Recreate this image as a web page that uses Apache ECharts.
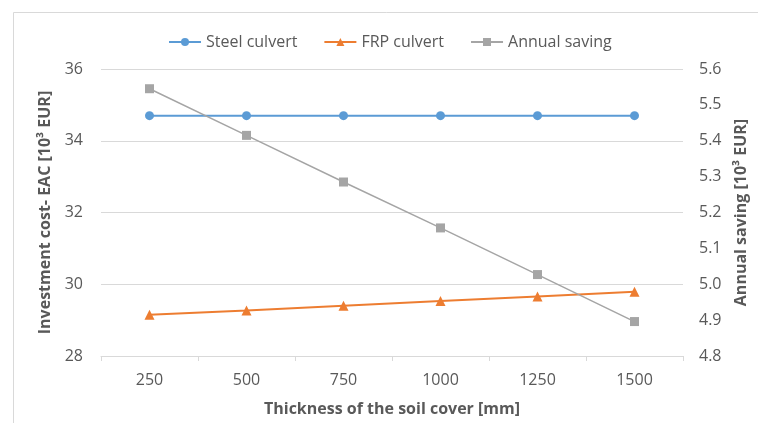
<!DOCTYPE html>
<html><head><meta charset="utf-8">
<script src="https://cdn.jsdelivr.net/npm/echarts@6/dist/echarts.min.js"></script>
<style>html,body{margin:0;padding:0;background:#fff;overflow:hidden}#c{width:758px;height:423px}</style>
</head><body><div id="c"></div>
<script>
var categories = ['250', '500', '750', '1000', '1250', '1500'];
var steelCulvert = [34.7, 34.7, 34.7, 34.7, 34.7, 34.7];
var frpCulvert = [29.15, 29.27, 29.40, 29.53, 29.66, 29.79];
var annualSaving = [5.545, 5.415, 5.285, 5.157, 5.027, 4.896];
var leftTicks = {min: 28, max: 36, interval: 2};
var rightTicks = {min: 4.8, max: 5.6, interval: 0.1};

var FONT = '"Open Sans", "Liberation Sans", sans-serif';
var TXT = '#595959';
var chart = echarts.init(document.getElementById('c'), null, {renderer: 'canvas', width: 758, height: 423});
chart.setOption({
  animation: false,
  backgroundColor: '#fff',
  textStyle: {fontFamily: FONT},
  graphic: [{type: 'rect', shape: {x: 13.5, y: 12.5, width: 800, height: 500}, style: {fill: 'none', stroke: '#d9d9d9', lineWidth: 1}, silent: true}],
  legend: {
    top: 29, left: 163, itemWidth: 32, itemHeight: 10, itemGap: 26,
    textStyle: {color: TXT, fontSize: 16, fontFamily: FONT},
    data: ['Steel culvert', 'FRP culvert', 'Annual saving']
  },
  grid: {left: 101, right: 75, top: 69, bottom: 67, containLabel: false},
  xAxis: {
    type: 'category', data: categories, boundaryGap: true,
    name: 'Thickness of the soil cover [mm]', nameLocation: 'middle', nameGap: 45,
    nameTextStyle: {color: TXT, fontSize: 16, fontWeight: 'bold', fontFamily: FONT},
    axisLine: {lineStyle: {color: '#d9d9d9', width: 1}},
    axisTick: {show: true, length: 5, lineStyle: {color: '#d9d9d9'}},
    axisLabel: {color: TXT, fontSize: 16, margin: 16, fontFamily: FONT}
  },
  yAxis: [{
    type: 'value', min: leftTicks.min, max: leftTicks.max, interval: leftTicks.interval,
    name: 'Investment cost- EAC [10³ EUR]', nameLocation: 'middle', nameGap: 46, nameRotate: 90,
    nameTextStyle: {color: TXT, fontSize: 16, fontWeight: 'bold', fontFamily: FONT},
    axisLine: {show: false}, axisTick: {show: false},
    axisLabel: {color: TXT, fontSize: 16, margin: 18, fontFamily: FONT},
    splitLine: {lineStyle: {color: '#d9d9d9', width: 1}}
  }, {
    type: 'value', min: rightTicks.min, max: rightTicks.max, interval: rightTicks.interval,
    name: 'Annual saving [10³ EUR]', nameLocation: 'middle', nameGap: 50, nameRotate: 90,
    nameTextStyle: {color: TXT, fontSize: 16, fontWeight: 'bold', fontFamily: FONT},
    axisLine: {show: false}, axisTick: {show: false},
    axisLabel: {color: TXT, fontSize: 16, margin: 16, fontFamily: FONT, formatter: function (v) { return v.toFixed(1); }},
    splitLine: {show: false}
  }],
  series: [{
    name: 'Steel culvert', type: 'line', data: steelCulvert, yAxisIndex: 0,
    symbol: 'circle', symbolSize: 9, color: '#5B9BD5', lineStyle: {width: 2}
  }, {
    name: 'FRP culvert', type: 'line', data: frpCulvert, yAxisIndex: 0,
    symbol: 'triangle', symbolSize: 10, color: '#ED7D31', lineStyle: {width: 2}
  }, {
    name: 'Annual saving', type: 'line', data: annualSaving, yAxisIndex: 1,
    symbol: 'rect', symbolSize: 9, color: '#A5A5A5', lineStyle: {width: 1.5}
  }]
});
</script></body></html>
